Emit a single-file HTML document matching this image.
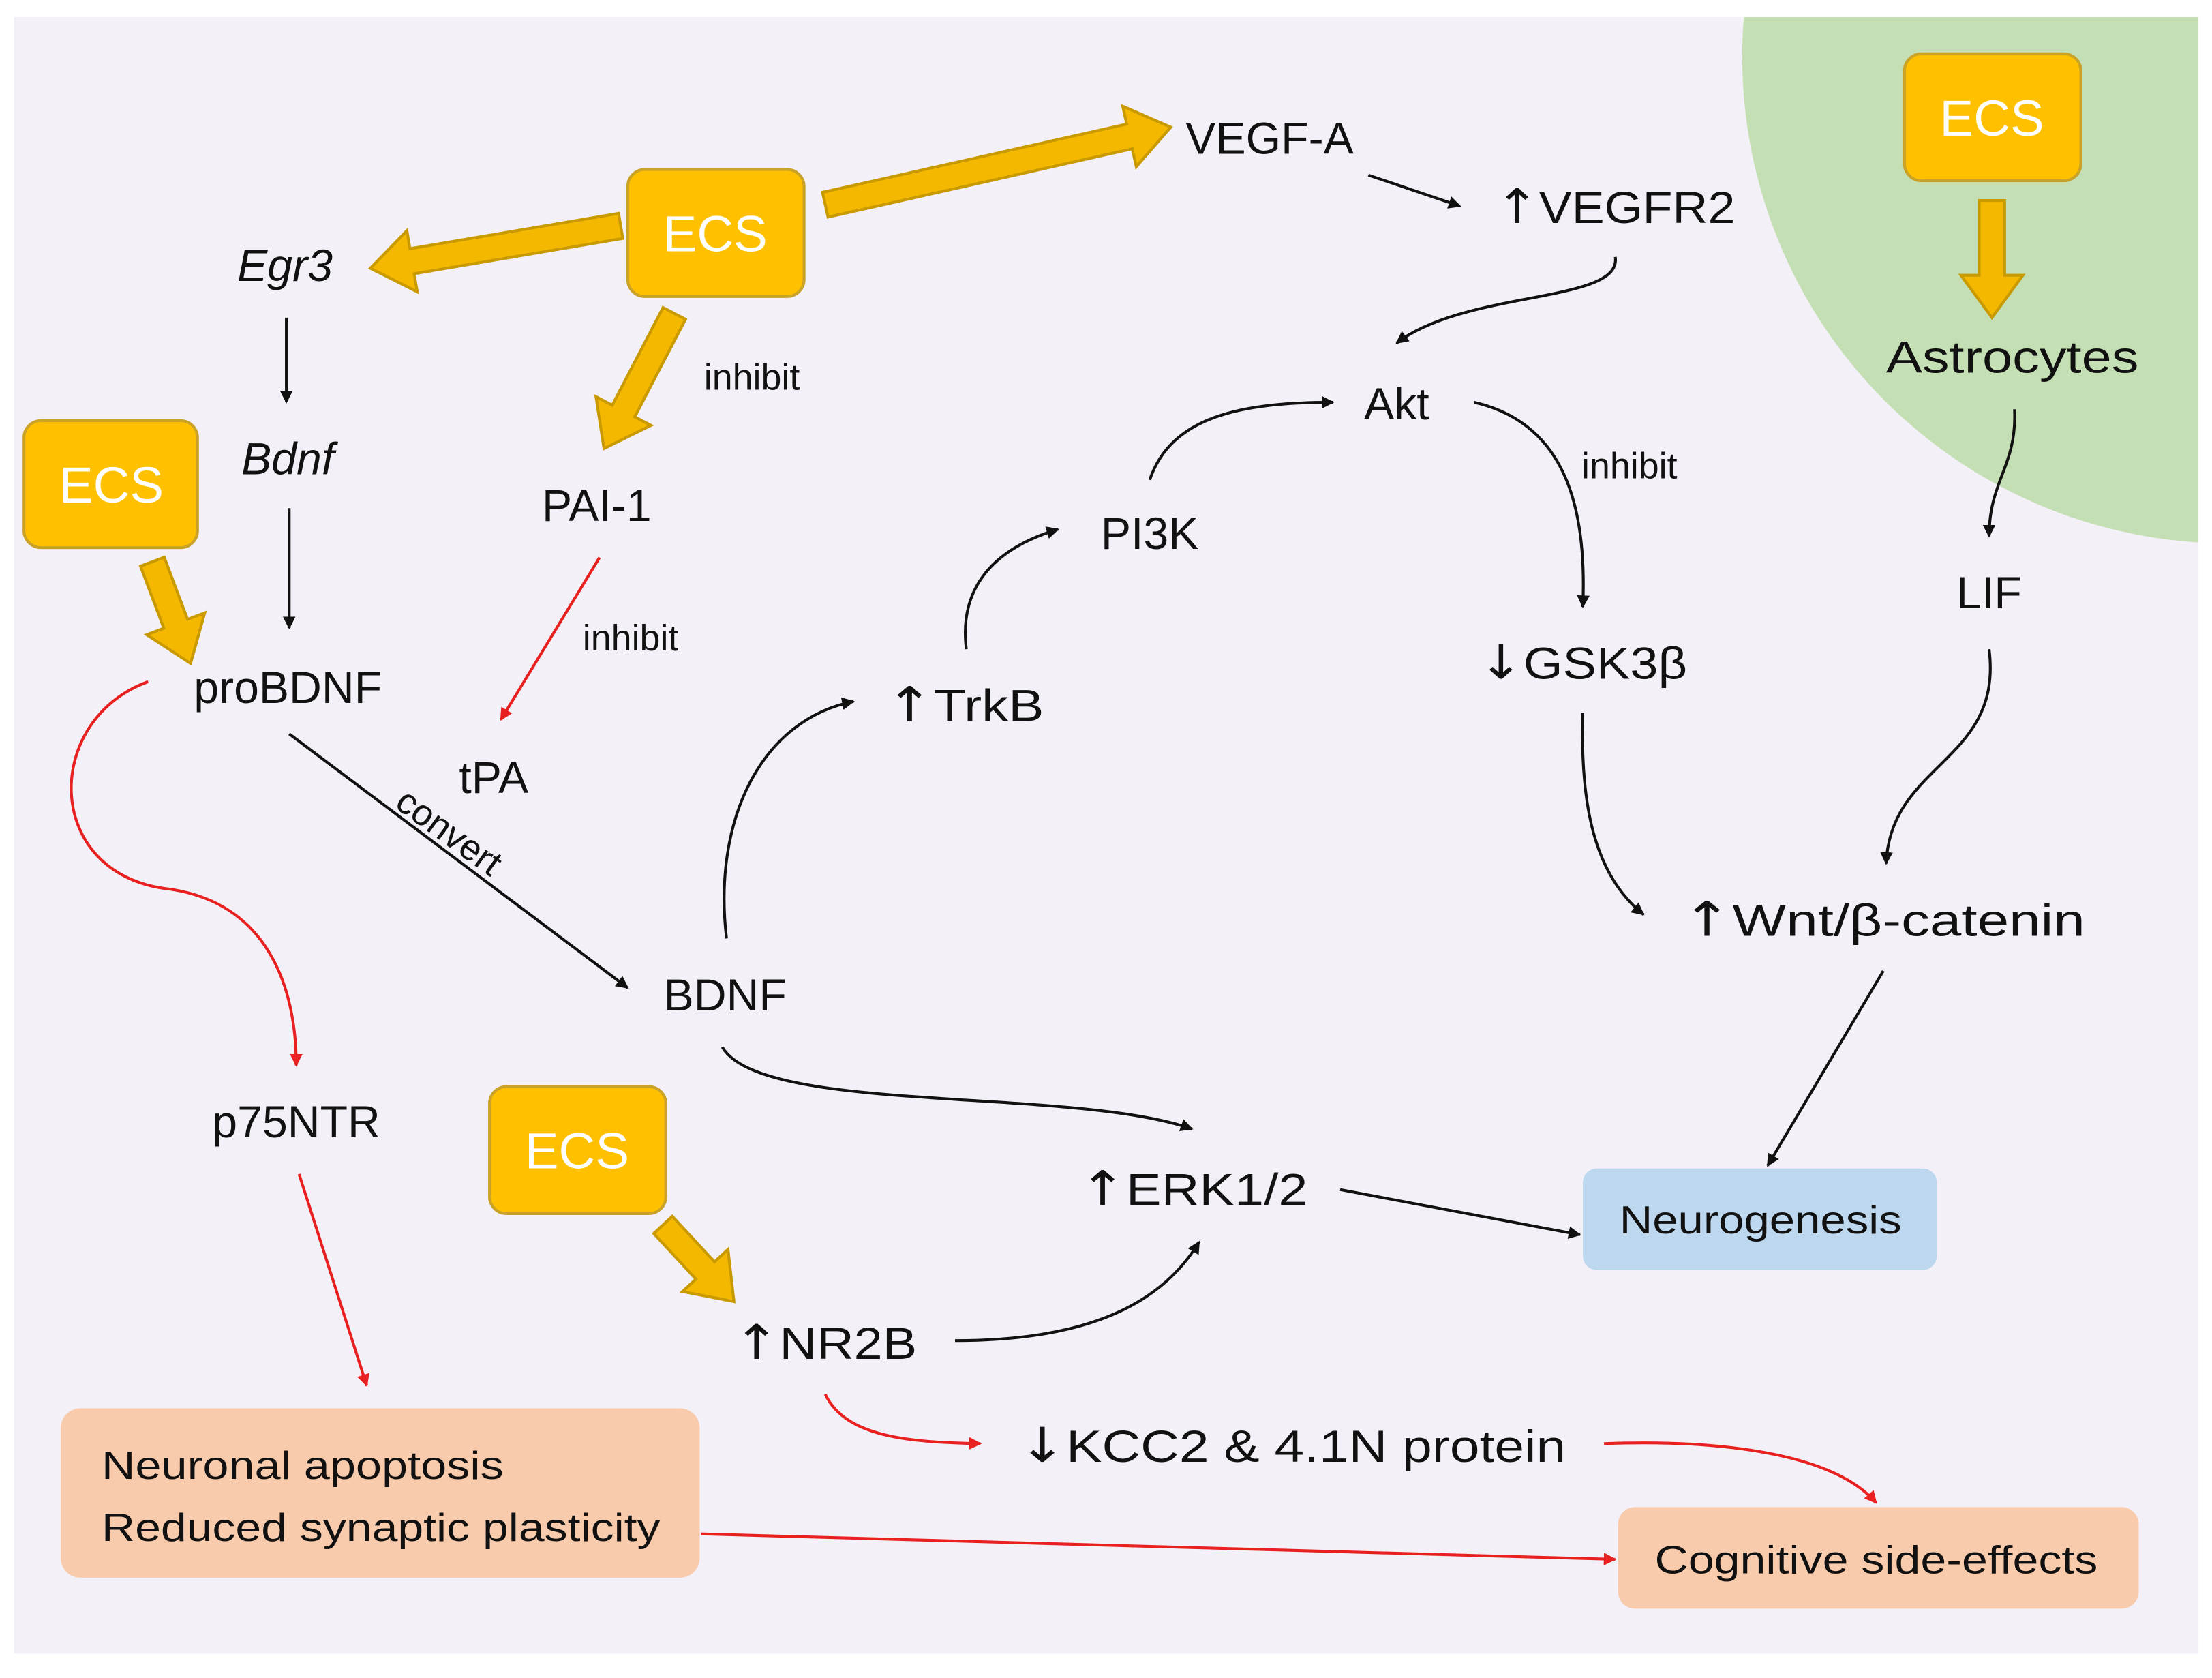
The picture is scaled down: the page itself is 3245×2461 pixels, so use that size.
<!DOCTYPE html>
<html><head><meta charset="utf-8"><style>
html,body{margin:0;padding:0;background:#fff;}
svg{display:block;}
text{font-family:"Liberation Sans","DejaVu Sans",sans-serif;fill:#111;}
.ar{font-family:"DejaVu Sans",sans-serif;font-size:34px;}
</style></head><body>
<svg width="3245" height="2461" viewBox="0 0 1568 1189" xmlns="http://www.w3.org/2000/svg">
<defs>
<marker id="ab" viewBox="0 0 10 10" refX="9" refY="5" markerWidth="9" markerHeight="9" markerUnits="userSpaceOnUse" orient="auto"><path d="M0,0 L10,5 L0,10 z" fill="#111"/></marker>
<marker id="ar" viewBox="0 0 10 10" refX="9" refY="5" markerWidth="9" markerHeight="9" markerUnits="userSpaceOnUse" orient="auto"><path d="M0,0 L10,5 L0,10 z" fill="#E82020"/></marker>
<clipPath id="pc"><rect x="10" y="12" width="1548" height="1160"/></clipPath>
</defs>
<rect x="0" y="0" width="1568" height="1189" fill="#fff"/>
<rect x="10" y="12" width="1548" height="1160" fill="#F4F0F8"/>
<circle cx="1580" cy="40" r="345" fill="#C5DFB4" clip-path="url(#pc)"/>

<g fill="#F4B800" stroke="#C89A00" stroke-width="2">
<g transform="translate(585,145) rotate(-12.65)"><polygon points="0,-9 221,-9 221,-22 251,0 221,22 221,9 0,9"/></g>
<g transform="translate(440,160) rotate(170.4)"><polygon points="0,-9 150,-9 150,-22 180,0 150,22 150,9 0,9"/></g>
<g transform="translate(478,222) rotate(117.5)"><polygon points="0,-9 78,-9 78,-22 108,0 78,22 78,9 0,9"/></g>
<g transform="translate(108,398) rotate(69.4)"><polygon points="0,-9 47,-9 47,-22 77,0 47,22 47,9 0,9"/></g>
<g transform="translate(470,868) rotate(47.2)"><polygon points="0,-9 44,-9 44,-22 74,0 44,22 44,9 0,9"/></g>
<g transform="translate(1412,142) rotate(90)"><polygon points="0,-9 53,-9 53,-22 83,0 53,22 53,9 0,9"/></g>
</g>

<g fill="#FFC000" stroke="#C9A227" stroke-width="2">
<rect x="445" y="120" width="125" height="90" rx="12"/>
<rect x="17" y="298" width="123" height="90" rx="12"/>
<rect x="347" y="770" width="125" height="90" rx="12"/>
<rect x="1350" y="38" width="125" height="90" rx="12"/>
</g>
<g font-size="36" text-anchor="middle">
<text x="507" y="178" style="fill:#fff">ECS</text>
<text x="79" y="356" style="fill:#fff">ECS</text>
<text x="409" y="828" style="fill:#fff">ECS</text>
<text x="1412" y="96" style="fill:#fff">ECS</text>
</g>

<rect x="1122" y="828" width="251" height="72" rx="10" fill="#BDD7EE"/>
<rect x="43" y="998" width="453" height="120" rx="14" fill="#F8CBAD"/>
<rect x="1147" y="1068" width="369" height="72" rx="12" fill="#F8CBAD"/>

<g fill="none" stroke="#111" stroke-width="2" marker-end="url(#ab)">
<path d="M970,124 L1035,146"/>
<path d="M1145,182 C1150,215 1040,205 990,243"/>
<path d="M203,225 L203,285"/>
<path d="M205,360 L205,445"/>
<path d="M1045,285 C1110,300 1125,360 1122,430"/>
<path d="M815,340 C830,295 880,285 945,285"/>
<path d="M685,460 C680,420 700,390 750,375"/>
<path d="M515,665 C505,580 540,510 605,497"/>
<path d="M205,520 L445,700"/>
<path d="M512,742 C540,790 760,770 845,800"/>
<path d="M1122,505 C1120,570 1130,620 1165,648"/>
<path d="M1410,460 C1420,540 1340,540 1337,612"/>
<path d="M1428,290 C1430,330 1410,340 1410,380"/>
<path d="M1335,688 L1253,826"/>
<path d="M950,843 L1120,875"/>
<path d="M677,950 C760,950 820,930 850,880"/>
</g>
<g fill="none" stroke="#E82020" stroke-width="2" marker-end="url(#ar)">
<path d="M425,395 L355,510"/>
<path d="M105,483 C30,510 30,620 120,630 C190,640 210,700 210,755"/>
<path d="M212,832 L260,982"/>
<path d="M585,988 C600,1020 650,1022 695,1023"/>
<path d="M1137,1023 C1220,1020 1300,1030 1330,1065"/>
<path d="M497,1087 L1145,1105"/>
</g>

<g font-size="32">
<text x="900" y="109" text-anchor="middle">VEGF-A</text>
<text x="1060" y="158" textLength="170" lengthAdjust="spacingAndGlyphs"><tspan class="ar">↑</tspan>VEGFR2</text>
<text x="202" y="199" font-style="italic" text-anchor="middle">Egr3</text>
<text x="204" y="336" font-style="italic" text-anchor="middle">Bdnf</text>
<text x="423" y="369" text-anchor="middle">PAI-1</text>
<text x="990" y="297" text-anchor="middle">Akt</text>
<text x="815" y="389" text-anchor="middle">PI3K</text>
<text x="1410" y="431" text-anchor="middle">LIF</text>
<text x="1337" y="264" textLength="179" lengthAdjust="spacingAndGlyphs">Astrocytes</text>
<text x="204" y="498" text-anchor="middle">proBDNF</text>
<text x="350" y="562" text-anchor="middle">tPA</text>
<text x="628" y="511" textLength="112" lengthAdjust="spacingAndGlyphs"><tspan class="ar">↑</tspan>TrkB</text>
<text x="1048" y="481" textLength="148" lengthAdjust="spacingAndGlyphs"><tspan class="ar">↓</tspan>GSK3β</text>
<text x="1192" y="663" textLength="286" lengthAdjust="spacingAndGlyphs"><tspan class="ar">↑</tspan>Wnt/β-catenin</text>
<text x="514" y="716" text-anchor="middle">BDNF</text>
<text x="210" y="806" text-anchor="middle">p75NTR</text>
<text x="765" y="854" textLength="162" lengthAdjust="spacingAndGlyphs"><tspan class="ar">↑</tspan>ERK1/2</text>
<text x="520" y="963" textLength="130" lengthAdjust="spacingAndGlyphs"><tspan class="ar">↑</tspan>NR2B</text>
<text x="722" y="1036" textLength="388" lengthAdjust="spacingAndGlyphs"><tspan class="ar">↓</tspan>KCC2 &amp; 4.1N protein</text>
</g>
<g font-size="26" text-anchor="middle">
<text x="533" y="276">inhibit</text>
<text x="1155" y="339">inhibit</text>
<text x="447" y="461">inhibit</text>
<text x="318" y="598" transform="rotate(36 318 590)">convert</text>
</g>
<g font-size="28">
<text x="1148" y="874" textLength="200" lengthAdjust="spacingAndGlyphs">Neurogenesis</text>
<text x="72" y="1048" textLength="285" lengthAdjust="spacingAndGlyphs">Neuronal apoptosis</text>
<text x="72" y="1092" textLength="396" lengthAdjust="spacingAndGlyphs">Reduced synaptic plasticity</text>
<text x="1173" y="1115" textLength="314" lengthAdjust="spacingAndGlyphs">Cognitive side-effects</text>
</g>
</svg>
</body></html>
